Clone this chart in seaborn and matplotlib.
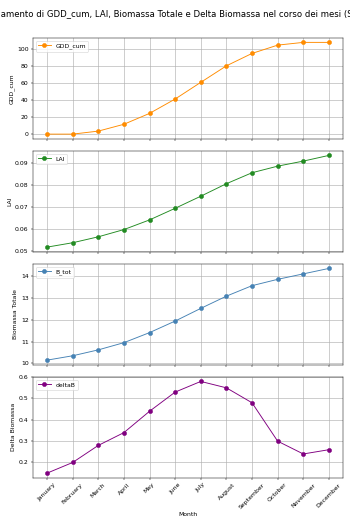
import matplotlib
matplotlib.use("Agg")
import matplotlib.pyplot as plt
import seaborn as sns
import pandas as pd

months = ["January", "February", "March", "April", "May", "June", "July",
          "August", "September", "October", "November", "December"]
gdd_cum = [0, 0, 3.5, 11.5, 24.2, 41, 60.5, 79.8, 94.3, 104, 107.2, 107.2]
lai = [0.0518, 0.0538, 0.0565, 0.0598, 0.0642, 0.0695, 0.0750, 0.0807,
       0.0857, 0.0887, 0.0910, 0.0936]
b_tot = [10.15, 10.35, 10.62, 10.95, 11.41, 11.94, 12.52, 13.08, 13.56,
         13.85, 14.10, 14.35]
delta_b = [0.15, 0.20, 0.28, 0.34, 0.44, 0.53, 0.58, 0.55, 0.48, 0.30, 0.24, 0.26]

title = "Andamento di GDD_cum, LAI, Biomassa Totale e Delta Biomassa nel corso dei mesi (Sim)"

df = pd.DataFrame({"Month": months, "GDD_cum": gdd_cum, "LAI": lai,
                   "B_tot": b_tot, "deltaB": delta_b})

series = [("GDD_cum", "GDD_cum", "darkorange"),
          ("LAI", "LAI", "forestgreen"),
          ("B_tot", "Biomassa Totale", "steelblue"),
          ("deltaB", "Delta Biomassa", "purple")]

DPI = 43.75
fig, axes = plt.subplots(4, 1, figsize=(8, 12), dpi=DPI, sharex=True)
fig.subplots_adjust(left=0.094, right=0.98, top=0.928, bottom=0.09, hspace=0.12)

for ax, (col, ylabel, color) in zip(axes, series):
    sns.lineplot(data=df, x="Month", y=col, ax=ax, color=color, marker="o",
                 markersize=7, linewidth=1.5, markeredgecolor=color,
                 label=col, sort=False)
    ax.set_ylabel(ylabel, fontsize=10)
    ax.grid(True, color="#b0b0b0", linewidth=1.0)
    ax.legend(loc="upper left", fontsize=10)
    ax.tick_params(labelsize=10)

axes[-1].set_xlabel("Month", fontsize=10)
for lbl in axes[-1].get_xticklabels():
    lbl.set_rotation(45)
    lbl.set_ha("center")

fig.suptitle(title, fontsize=14, y=0.983)
fig.savefig("out.png", dpi=DPI)
